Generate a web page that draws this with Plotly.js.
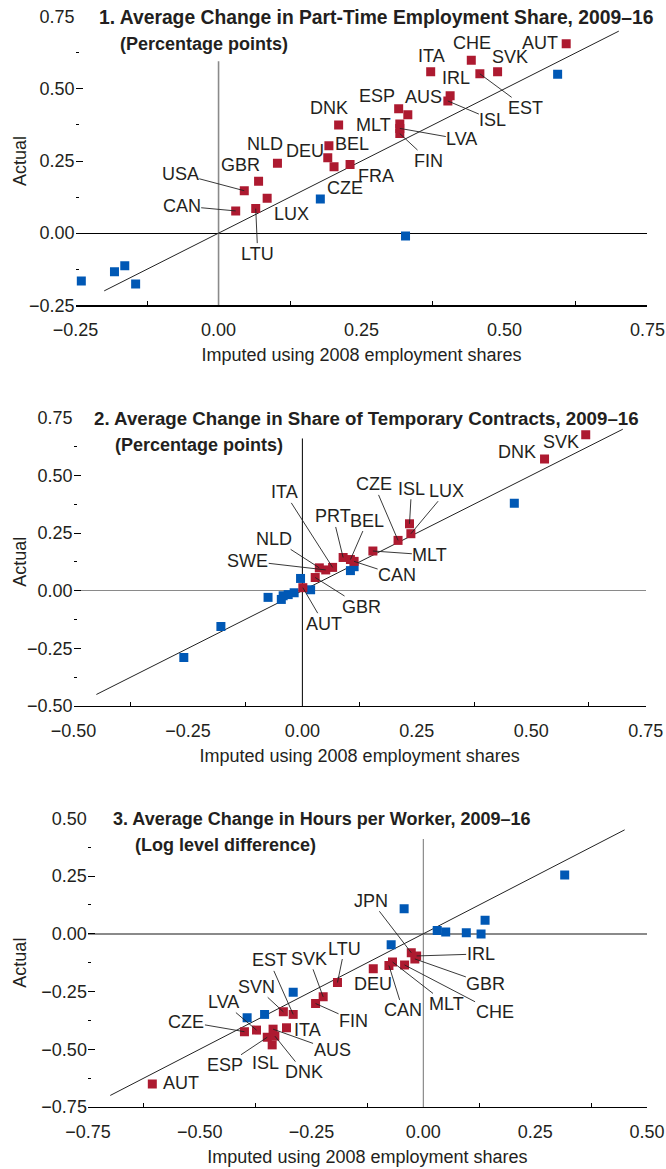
<!DOCTYPE html>
<html>
<head>
<meta charset="utf-8">
<script src="https://cdn.plot.ly/plotly-3.0.1.min.js"></script>
<style>html,body{margin:0;padding:0;background:#fff;}#chart{width:666px;height:1169px;}</style>
</head>
<body>
<div id="chart"></div>
<script>
// ---------- DATA ----------
// Panel 1: Average Change in Part-Time Employment Share, 2009–16
const p1RedCodes = ["AUT","CHE","SVK","ITA","EST","IRL","ISL","ESP","AUS","MLT","LVA","FIN","DNK","BEL","DEU","CZE","FRA","NLD","GBR","USA","LUX","LTU","CAN"];
const p1RedX = [0.608,0.442,0.488,0.371,0.457,0.405,0.401,0.315,0.331,0.317,0.317,0.317,0.210,0.193,0.191,0.202,0.230,0.103,0.070,0.045,0.085,0.065,0.030];
const p1RedY = [0.656,0.599,0.559,0.559,0.552,0.476,0.458,0.431,0.410,0.378,0.363,0.345,0.375,0.303,0.261,0.230,0.238,0.242,0.180,0.147,0.121,0.085,0.077];
const p1BlueX = [0.593,0.327,0.178,-0.240,-0.182,-0.164,-0.145];
const p1BlueY = [0.551,-0.010,0.118,-0.166,-0.134,-0.113,-0.176];
const p1FitX = [-0.20, 0.70];
const p1VLineY = [-0.25, 0.596];

// Panel 2: Average Change in Share of Temporary Contracts, 2009–16
const p2RedCodes = ["SVK","DNK","ISL","LUX","CZE","MLT","PRT","BEL","CAN","ITA","SWE","NLD","GBR","AUT"];
const p2RedX = [0.619,0.529,0.234,0.237,0.209,0.154,0.089,0.105,0.113,0.066,0.051,0.037,0.028,0.001];
const p2RedY = [0.676,0.571,0.290,0.247,0.218,0.172,0.144,0.135,0.127,0.101,0.090,0.099,0.057,0.013];
const p2BlueX = [0.463,0.113,0.105,-0.004,0.018,-0.018,-0.031,-0.042,-0.046,-0.075,-0.178,-0.259];
const p2BlueY = [0.379,0.104,0.087,0.053,0.004,-0.009,-0.017,-0.022,-0.038,-0.029,-0.155,-0.290];
const p2FitX = [-0.45, 0.70];
const p2VLineY = [-0.50, 0.66];

// Panel 3: Average Change in Hours per Worker, 2009–16
const p3RedCodes = ["AUT","CZE","LVA","ESP","ISL","DNK","AUS","ITA","SVN","EST","FIN","SVK","LTU","DEU","CAN","MLT","CHE","JPN","IRL","GBR"];
const p3RedX = [-0.606,-0.400,-0.373,-0.349,-0.338,-0.332,-0.336,-0.306,-0.313,-0.291,-0.241,-0.224,-0.192,-0.112,-0.077,-0.069,-0.042,-0.027,-0.015,-0.019];
const p3RedY = [-0.650,-0.424,-0.417,-0.448,-0.481,-0.443,-0.413,-0.407,-0.338,-0.349,-0.302,-0.273,-0.211,-0.151,-0.137,-0.122,-0.135,-0.082,-0.096,-0.109];
const p3BlueX = [-0.394,-0.355,-0.291,-0.072,-0.043,0.031,0.050,0.096,0.129,0.138,0.316];
const p3BlueY = [-0.364,-0.349,-0.253,-0.047,0.108,0.014,0.008,0.005,-0.001,0.059,0.255];
const p3FitX = [-0.70, 0.45];
const p3VLineY = [-0.75, 0.41];

const xTitle = "Imputed using 2008 employment shares";
const yTitle = "Actual";
const titles = [
  ["1. Average Change in Part-Time Employment Share, 2009–16", "(Percentage points)"],
  ["2. Average Change in Share of Temporary Contracts, 2009–16", "(Percentage points)"],
  ["3. Average Change in Hours per Worker, 2009–16", "(Log level difference)"]
];

// ---------- LABEL PLACEMENT (pixel offsets, leader line on/off) ----------
const lab1 = {AUT:[-26,-1,0],CHE:[1,-17,0],SVK:[12,-15,0],ITA:[1,-16,0],EST:[46,34,1],IRL:[6,-18,0],ISL:[45,19,1],
  ESP:[-22,-13,0],AUS:[16,-18,0],MLT:[-26,1,0],LVA:[62,11,1],FIN:[29,27,1],DNK:[-10,-17,0],BEL:[23,-2,0],DEU:[-23,-7,0],
  CZE:[11,21,0],FRA:[26,12,0],NLD:[-12,-19,0],GBR:[-18,-16,0],USA:[-64,-17,1],LUX:[24,16,0],LTU:[2,45,1],CAN:[-54,-5,1]};
const lab2 = {SVK:[-25,7,0],DNK:[-28,-7,0],ISL:[2,-35,1],LUX:[36,-43,1],CZE:[-24,-56,1],MLT:[57,4,1],PRT:[-10,-41,1],
  BEL:[17,-39,1],CAN:[43,14,1],ITA:[-48,-75,1],NLD:[-45,-29,1],SWE:[-78,-9,1],GBR:[46,29,1],AUT:[21,36,1]};
const lab3 = {AUT:[29,-1,0],CZE:[-58,-10,1],LVA:[-33,-28,1],SVN:[-27,-25,1],EST:[-24,-54,1],SVK:[-14,-38,1],LTU:[7,-34,1],
  FIN:[38,17,1],ITA:[21,2,0],AUS:[59,21,1],ESP:[-42,28,1],ISL:[-7,18,0],DNK:[29,36,1],DEU:[0,15,0],JPN:[-40,-52,1],
  IRL:[64,-2,1],GBR:[71,25,1],CHE:[90,47,1],MLT:[54,42,1],CAN:[14,45,1]};

// ---------- STYLE ----------
const FONT = "Liberation Sans Narrow, Arial Narrow, Liberation Sans, Arial, sans-serif";
const RED = "#AD1A30";
const BLUE = "#0058B5";
const GREY = "#8a8a8a";
const TXT = "#231f20";
const W = 666, H = 1169;

const panels = [
  {xr:[-0.25,0.75], yr:[-0.25,0.75], xd:[75.6,647.4], yd:[16.7,305.3], fit:p1FitX, vline:p1VLineY, vcol:GREY, vw:1.6, hcol:"#000", hw:1,
   rc:p1RedCodes, rx:p1RedX, ry:p1RedY, bx:p1BlueX, by:p1BlueY, lab:lab1, tx:[97,118], ts:19.3},
  {xr:[-0.5,0.75], yr:[-0.5,0.75], xd:[73.5,645.7], yd:[417.7,706], fit:p2FitX, vline:p2VLineY, vcol:"#000", vw:1, hcol:GREY, hw:1.6,
   rc:p2RedCodes, rx:p2RedX, ry:p2RedY, bx:p2BlueX, by:p2BlueY, lab:lab2, tx:[92,113], ts:18.7},
  {xr:[-0.75,0.5], yr:[-0.75,0.5], xd:[87.9,647], yd:[818.3,1107], fit:p3FitX, vline:p3VLineY, vcol:GREY, vw:1.2, hcol:GREY, hw:1.6,
   rc:p3RedCodes, rx:p3RedX, ry:p3RedY, bx:p3BlueX, by:p3BlueY, lab:lab3, tx:[111,133], ts:18}
];

const traces = [];
const layout = {
  width: W, height: H, margin:{l:0,r:0,t:0,b:0}, showlegend:false,
  paper_bgcolor:"#fff", plot_bgcolor:"rgba(0,0,0,0)",
  font:{family:FONT, size:18, color:TXT},
  hovermode:false, annotations:[]
};

panels.forEach((p, i) => {
  const n = i + 1;
  const xa = n === 1 ? "x" : "x" + n, ya = n === 1 ? "y" : "y" + n;
  const xk = n === 1 ? "xaxis" : "xaxis" + n, yk = n === 1 ? "yaxis" : "yaxis" + n;
  const xdom = [p.xd[0]/W, p.xd[1]/W];
  const ydom = [1 - p.yd[1]/H, 1 - p.yd[0]/H];
  layout[xk] = {
    domain: xdom, range: p.xr, anchor: ya, dtick:0.25, tick0:0, tickformat:".2f",
    showgrid:false, zeroline:false, showline:true, linecolor:"#000", linewidth:1.2,
    ticks:"", ticklabelstandoff:8,
    minor:{ticks:"inside", ticklen:4, tickcolor:"#000", tickwidth:1, tick0:0.125, dtick:0.25, showgrid:false},
    tickfont:{size:18, color:TXT},
    title:{text:xTitle, font:{size:18, color:TXT}, standoff:9},
    fixedrange:true
  };
  layout[yk] = {
    domain: ydom, range: p.yr, anchor: xa, dtick:0.25, tick0:0, tickformat:".2f",
    showgrid:false, showline:false, ticks:"inside", ticklen:7, tickcolor:"#000", tickwidth:1,
    zeroline:true, zerolinecolor:p.hcol, zerolinewidth:p.hw,
    minor:{ticks:"inside", ticklen:3, tickcolor:"#000", tickwidth:1, dtick:0.125, showgrid:false},
    tickfont:{size:18, color:TXT},
    fixedrange:true
  };
  // end ticks on the bottom axis
  layout["xaxis" + (n + 3)] = {
    domain: xdom, range: p.xr, anchor: ya, overlaying: xa, tickmode:"array", tickvals:p.xr,
    ticks:"inside", ticklen:7, tickcolor:"#000", tickwidth:1.2, showticklabels:false,
    showgrid:false, zeroline:false, showline:false, fixedrange:true
  };
  // mirrored ticks on the right
  layout["yaxis" + (n + 3)] = {
    domain: ydom, range: p.yr, anchor: xa, overlaying: ya, side:"right", dtick:0.25, tick0:0,
    ticks:"inside", ticklen:7, tickcolor:"#000", tickwidth:1, showticklabels:false,
    minor:{ticks:"inside", ticklen:3, tickcolor:"#000", tickwidth:1, dtick:0.125, showgrid:false},
    showgrid:false, zeroline:false, showline:false, fixedrange:true
  };
  // vertical zero line
  traces.push({type:"scatter", mode:"lines", x:[0,0], y:p.vline, xaxis:xa, yaxis:ya,
    line:{color:p.vcol, width:p.vw}, hoverinfo:"skip"});
  // 45-degree line
  traces.push({type:"scatter", mode:"lines", x:p.fit, y:p.fit, xaxis:xa, yaxis:ya,
    line:{color:"#222", width:1}, hoverinfo:"skip"});
  // blue points
  traces.push({type:"scatter", mode:"markers", x:p.bx, y:p.by, xaxis:xa, yaxis:ya,
    marker:{symbol:"square", size:9, color:BLUE, line:{width:0}}, hoverinfo:"skip"});
  // red points
  traces.push({type:"scatter", mode:"markers", x:p.rx, y:p.ry, text:p.rc, xaxis:xa, yaxis:ya,
    marker:{symbol:"square", size:9, color:RED, line:{width:0}}, hoverinfo:"skip"});
  // labels
  p.rc.forEach((c, k) => {
    const o = p.lab[c];
    if (!o) return;
    layout.annotations.push({
      xref:xa, yref:ya, x:p.rx[k], y:p.ry[k], text:c,
      showarrow:true, arrowhead:0, arrowwidth:0.9, standoff:0, startstandoff:0,
      arrowcolor: o[2] ? "#222" : "rgba(0,0,0,0)",
      ax:o[0], ay:o[1], font:{size:18, color:TXT}, borderpad:0
    });
  });
  // y-axis title
  layout.annotations.push({xref:"paper", yref:"paper", x:20/W, y:(ydom[0] + ydom[1])/2, xanchor:"center", yanchor:"middle",
    text:yTitle, textangle:-90, showarrow:false, font:{size:18, color:TXT}});
  // panel titles
  layout.annotations.push({xref:"paper", yref:"paper", x:p.tx[0]/W, y:1 - (p.yd[0] + 1)/H, xanchor:"left", yanchor:"middle",
    text:"<b>" + titles[i][0] + "</b>", showarrow:false, font:{size:p.ts, color:TXT}});
  layout.annotations.push({xref:"paper", yref:"paper", x:p.tx[1]/W, y:1 - (p.yd[0] + 27)/H, xanchor:"left", yanchor:"middle",
    text:"<b>" + titles[i][1] + "</b>", showarrow:false, font:{size:18, color:TXT}});
});

Plotly.newPlot("chart", traces, layout, {staticPlot:true, displayModeBar:false});
</script>
</body>
</html>
